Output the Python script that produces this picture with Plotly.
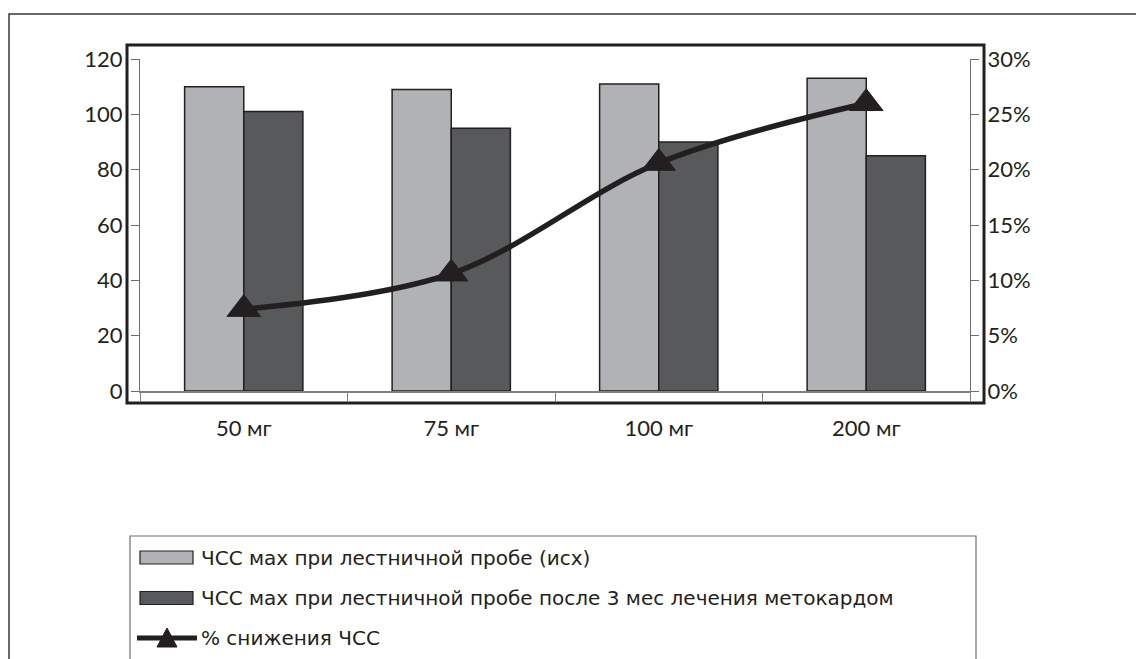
import plotly.graph_objects as go

# Dose groups and heart-rate values
categories = ["50 мг", "75 мг", "100 мг", "200 мг"]
hr_baseline = [110, 109, 111, 113]
hr_after = [101, 95, 90, 85]
hr_drop_pct = [0.074, 0.106, 0.206, 0.260]

left_ticks = [0, 20, 40, 60, 80, 100, 120]
right_ticks = [0, 0.05, 0.10, 0.15, 0.20, 0.25, 0.30]

series_names = [
    "ЧСС мах при лестничной пробе (исх)",
    "ЧСС мах при лестничной пробе после 3 мес лечения метокардом",
    "% снижения ЧСС",
]

W, H = 1136, 659
ML, MR, MT, MB = 140, 166, 59, 268
PW, PH = W - ML - MR, H - MT - MB

INK = "#231f20"
LIGHT = "#b1b2b6"
DARK = "#58595b"
FONT = "Lato"
LEGEND_FONT = "DejaVu Sans"


def px(x):
    return (x - ML) / PW


def py(y):
    return (H - MB - y) / PH


fig = go.Figure()
fig.add_trace(go.Bar(x=categories, y=hr_baseline, name=series_names[0],
                     marker=dict(color=LIGHT, line=dict(color=INK, width=1.5))))
fig.add_trace(go.Bar(x=categories, y=hr_after, name=series_names[1],
                     marker=dict(color=DARK, line=dict(color=INK, width=1.5))))
fig.add_trace(go.Scatter(x=categories, y=hr_drop_pct, name=series_names[2], yaxis="y2",
                         mode="lines+markers",
                         line=dict(color=INK, width=5.5, shape="spline"),
                         marker=dict(symbol="triangle-up", size=29, color=INK,
                                     line=dict(color=INK, width=1))))

shapes = []
# thick frame around the plot
shapes.append(dict(type="rect", xref="paper", yref="paper",
                   x0=px(127), x1=px(984), y0=py(403), y1=py(45),
                   line=dict(color=INK, width=3), layer="below"))
# outer border (top and left edges)
shapes.append(dict(type="path", xref="paper", yref="paper",
                   path=f"M {px(9)},{py(670)} L {px(9)},{py(14)} L {px(1140)},{py(14)}",
                   line=dict(color="#3a3a3a", width=1.5)))
# legend box
shapes.append(dict(type="rect", xref="paper", yref="paper",
                   x0=px(130), x1=px(976), y0=py(670), y1=py(536),
                   line=dict(color="#6d6e71", width=1.2), fillcolor="rgba(0,0,0,0)"))
# legend swatches
for yc, col in [(557.5, LIGHT), (598, DARK)]:
    shapes.append(dict(type="rect", xref="paper", yref="paper",
                       x0=px(140), x1=px(193), y0=py(yc + 6.5), y1=py(yc - 6.5),
                       fillcolor=col, line=dict(color=INK, width=1.2)))
shapes.append(dict(type="line", xref="paper", yref="paper",
                   x0=px(137), x1=px(197), y0=py(638), y1=py(638),
                   line=dict(color=INK, width=5)))
shapes.append(dict(type="path", xref="paper", yref="paper",
                   path=f"M {px(157)},{py(647)} L {px(177)},{py(647)} L {px(167)},{py(628)} Z",
                   fillcolor=INK, line=dict(color=INK, width=1)))

annotations = []
for yc, txt in zip([557.5, 598, 638], series_names):
    annotations.append(dict(xref="paper", yref="paper", x=px(199), y=py(yc),
                            xanchor="left", yanchor="middle", showarrow=False,
                            text=txt, font=dict(family=LEGEND_FONT, size=20, color=INK)))

fig.update_layout(
    width=W, height=H,
    margin=dict(l=ML, r=MR, t=MT, b=MB),
    paper_bgcolor="white", plot_bgcolor="white",
    barmode="group", bargap=0.43, bargroupgap=0,
    showlegend=False,
    shapes=shapes, annotations=annotations,
    font=dict(family=FONT, color=INK),
    xaxis=dict(type="category", range=[-0.5, 3.5], showline=True, linecolor="#808080",
               linewidth=1.5, ticks="outside", tickson="boundaries", ticklen=8,
               tickcolor="#808080", tickfont=dict(size=22, color=INK),
               ticklabelstandoff=17, showgrid=False, zeroline=False),
    yaxis=dict(range=[0, 120], tickvals=left_ticks, showline=True, linecolor="#6d6e71",
               linewidth=1, ticks="outside", ticklen=8, tickcolor="#6d6e71",
               tickfont=dict(size=22, color=INK), ticklabelstandoff=4,
               showgrid=False, zeroline=False),
    yaxis2=dict(range=[0, 0.30], tickvals=right_ticks, tickformat=".0%", overlaying="y",
                side="right", showline=True, linecolor="#6d6e71", linewidth=1,
                ticks="outside", ticklen=8, tickcolor="#6d6e71",
                tickfont=dict(size=22, color=INK), ticklabelstandoff=4,
                showgrid=False, zeroline=False),
)

fig.write_html("out.html")
